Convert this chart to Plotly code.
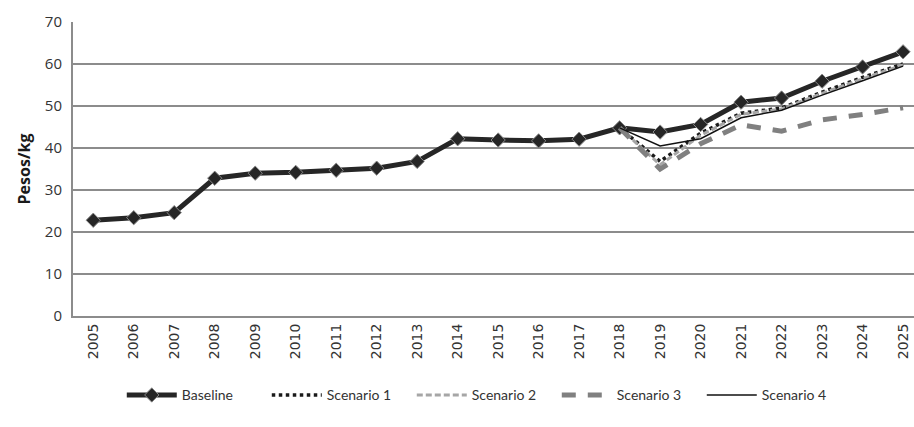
import plotly.graph_objects as go

years = [str(y) for y in range(2005, 2026)]

baseline = [22.8, 23.4, 24.6, 32.8, 34.0, 34.2, 34.7, 35.2, 36.8, 42.2, 41.9,
            41.7, 42.1, 44.8, 43.8, 45.6, 50.9, 51.9, 55.9, 59.3, 62.9]

# Scenario paths start from the 2018 baseline value
scen_years = years[13:]
scenario1 = [44.8, 36.8, 43.5, 48.3, 49.5, 53.3, 56.8, 60.0]
scenario2 = [44.8, 36.0, 43.0, 48.0, 49.3, 53.0, 56.5, 59.8]
scenario3 = [44.8, 35.0, 41.0, 45.5, 44.0, 46.7, 48.0, 49.6]
scenario4 = [44.8, 40.5, 42.2, 47.2, 49.0, 52.6, 56.0, 59.5]

fig = go.Figure()

fig.add_trace(go.Scatter(
    x=years, y=baseline, name="Baseline", mode="lines+markers",
    line=dict(color="#262626", width=5),
    marker=dict(symbol="diamond", size=11, color="#262626",
                line=dict(color="#8a8a8a", width=1)),
    cliponaxis=False,
))
fig.add_trace(go.Scatter(
    x=scen_years, y=scenario1, name="Scenario 1", mode="lines",
    line=dict(color="#1a1a1a", width=3.5, dash="dot"),
))
fig.add_trace(go.Scatter(
    x=scen_years, y=scenario2, name="Scenario 2", mode="lines",
    line=dict(color="#a6a6a6", width=3, dash="6px,3px"),
))
fig.add_trace(go.Scatter(
    x=scen_years, y=scenario3, name="Scenario 3", mode="lines",
    line=dict(color="#808080", width=5, dash="14px,12px"),
))
fig.add_trace(go.Scatter(
    x=scen_years, y=scenario4, name="Scenario 4", mode="lines",
    line=dict(color="#111111", width=1.5),
))

fig.update_layout(
    width=914, height=427,
    margin=dict(l=73, r=0, t=22, b=111),
    paper_bgcolor="white", plot_bgcolor="white",
    font=dict(family="Lato", color="#333333"),
    showlegend=True,
    legend=dict(
        orientation="h", x=0.058, xanchor="left", y=-0.27, yanchor="middle",
        font=dict(family="Lato", size=14, color="#333333"),
        itemwidth=50, traceorder="normal",
        entrywidth=80, entrywidthmode="pixels",
    ),
    xaxis=dict(
        type="category", range=[-0.5, 20.27],
        tickangle=-90, tickfont=dict(family="DejaVu Sans", size=14, color="#333333"),
        showgrid=False, showline=True, linecolor="#8c8c8c", linewidth=2,
        ticks="", zeroline=False,
    ),
    yaxis=dict(
        range=[0, 70], dtick=10,
        tickfont=dict(family="Open Sans", size=15, color="#333333"),
        showgrid=True, gridcolor="#8c8c8c", gridwidth=1.5,
        showline=True, linecolor="#8c8c8c", linewidth=2,
        zeroline=False, ticks="outside", ticklen=6, tickcolor="white",
        title=dict(text="<b>Pesos/kg</b>", font=dict(family="Open Sans", size=16, color="#1a1a1a"),
                   standoff=10),
    ),
)

fig.write_html("out.html")
